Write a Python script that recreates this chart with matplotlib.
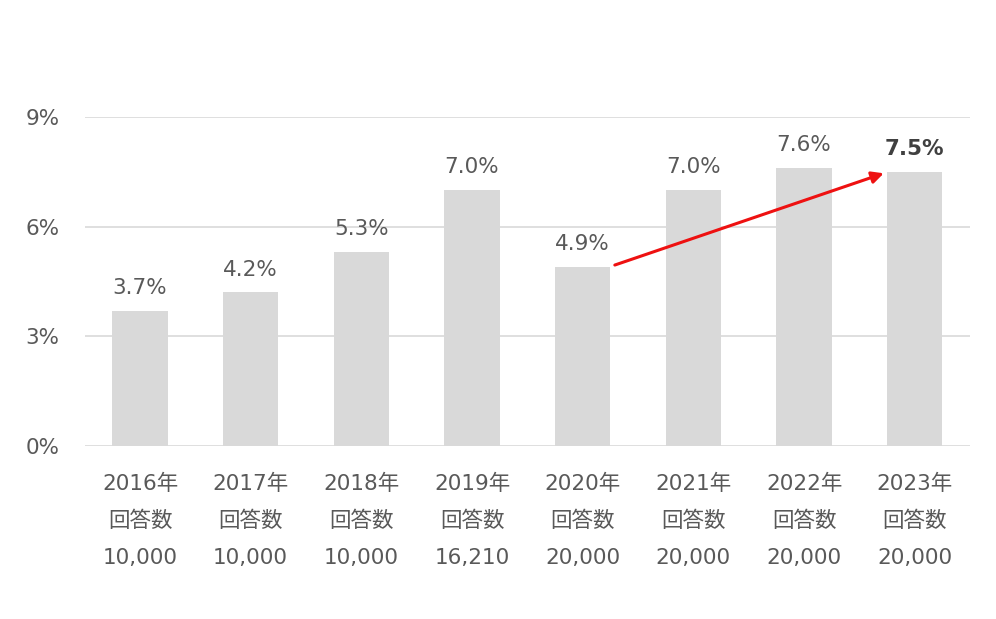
import matplotlib
matplotlib.use("Agg")
import matplotlib.pyplot as plt

plt.rcParams['font.family'] = ['DejaVu Sans', 'Noto Sans CJK JP']

years = ["2016年", "2017年", "2018年", "2019年", "2020年", "2021年", "2022年", "2023年"]
respondents = ["10,000", "10,000", "10,000", "16,210", "20,000", "20,000", "20,000", "20,000"]
values = [3.7, 4.2, 5.3, 7.0, 4.9, 7.0, 7.6, 7.5]
yticks = [0, 3, 6, 9]

text_color = "#595959"
fs = 15.5

fig = plt.figure(figsize=(9.96, 6.19), dpi=100)
ax = fig.add_axes([0.085, 0.2795, 0.889, 0.5315])

x = list(range(len(values)))
ax.bar(x, values, width=0.5, color="#d9d9d9", zorder=2)

for i, v in enumerate(values):
    bold = (i == len(values) - 1)
    ax.text(i, v + 0.35, f"{v:.1f}%", ha="center", va="bottom",
            fontsize=fs, color="#404040" if bold else text_color,
            fontweight="bold" if bold else "normal")

ax.set_xlim(-0.5, len(values) - 0.5)
ax.set_ylim(0, 9)
ax.set_yticks(yticks)
ax.set_yticklabels([f"{t}%" for t in yticks], fontsize=fs, color=text_color)
ax.set_xticks(x)
ax.set_xticklabels([f"{y}\n回答数\n{r}" for y, r in zip(years, respondents)],
                   fontsize=fs, color=text_color, linespacing=2.02)
ax.tick_params(axis="both", length=0)
ax.tick_params(axis="y", pad=18)
ax.tick_params(axis="x", pad=20)
ax.grid(axis="y", color="#d9d9d9", linewidth=1.2, zorder=0)
for s in ax.spines.values():
    s.set_visible(False)

ax.annotate("", xy=(6.72, 7.46), xytext=(4.29, 4.95),
            arrowprops=dict(arrowstyle="-|>,head_length=0.7,head_width=0.35",
                            color="#ee1111", lw=2.2, shrinkA=0, shrinkB=0),
            zorder=5)

fig.savefig("out.png", dpi=100, facecolor="white")
